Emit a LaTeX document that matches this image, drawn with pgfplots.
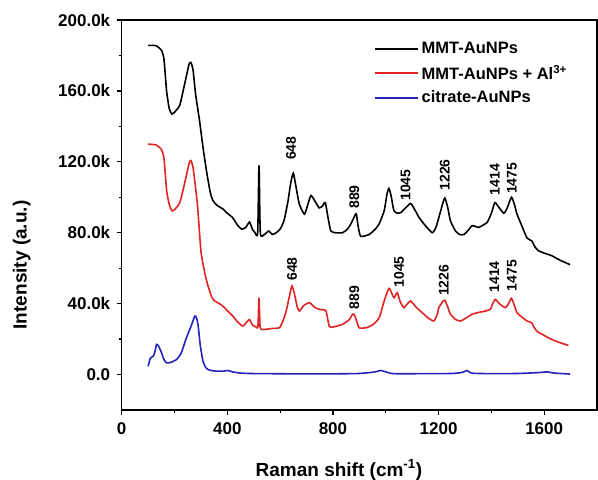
\documentclass[border=0pt]{standalone}
\usepackage{fontspec}
\setmainfont{Liberation Sans}
\usepackage{pgfplots}
\pgfplotsset{compat=1.18}
\usepackage{pgfplotstable}
\definecolor{myred}{RGB}{225,35,35}
\definecolor{myblue}{RGB}{35,35,190}

\pgfplotstableread{
x y
100 185.7
130 185.5
150 183
160 178
170 160
180 150
190 147
200 148
220 152
240 165
255 175
262 176
270 172
280 158
295 143
308 128
321 115
335 103
346 98
365 95
383 93.5
400 91
420 88.5
440 84
455 82
470 83
484 86
495 82
505 80
515 80
520 118
525 80
540 79
557 81
570 79
585 80
600 82
615 87
630 98
640 108
650 113.5
660 106
673 96
692 90.5
705 96
717 101
735 97
748 94
760 95
771 97
782 88
792 81
810 80
836 80
855 82
868 85
884 90
889 90.5
895 84
905 78
937 79
960 82
975 85
994 92.4
1005 102
1012 105
1020 101
1031 92.4
1045 91
1057 91.4
1075 94
1094 96.5
1110 93
1126 88.6
1150 84
1176 80
1190 83
1201 88.6
1215 96
1224 99.6
1235 94
1245 86.7
1264 81
1280 79
1296 79
1310 81
1327 84
1340 83.5
1352 83
1365 84
1384 85.8
1400 91
1413 97
1425 95
1447 91
1460 94
1476 100
1487 96
1497 90.5
1515 84
1535 77
1553 75.4
1565 72
1579 69.8
1600 68.5
1629 67
1660 64.5
1698 62
}\blackdata

\pgfplotstableread{
x y
100 130
130 129.5
150 127
160 122
170 104
180 96
190 92.4
200 93
220 97
240 109
255 119
262 120.7
270 117
280 105
288 94
300 69.8
315 57
325 51
340 44
352 41.5
370 40
383 38.6
400 36
421 33
440 29.5
459 27.3
470 29
484 31
495 28
509 26.8
516 27
520 43.3
524 27
530 25.5
545 25.5
570 26
597 26.4
610 30
623 35.8
635 44
645 50
655 45
665 38
673 35.8
690 39
711 40.5
730 38
748 36.8
762 36.5
774 35.8
786 27.3
800 26.8
836 28.3
862 31
874 34
880 34
888 31
899 26.4
925 26.4
950 28
975 32
994 41.5
1012 48.6
1022 46
1031 43.3
1038 45
1044 46.2
1055 41
1069 37.7
1080 39.5
1094 41.5
1115 38
1138 34.9
1160 32
1182 30.2
1195 34
1201 37.7
1215 41
1224 41.9
1235 38
1245 34
1265 31
1283 30.2
1305 32
1327 34
1350 35
1377 35.8
1396 36.8
1405 40
1415 42.4
1430 40
1453 37.7
1465 40
1476 43
1487 39
1497 34.9
1515 32.5
1535 30.2
1553 29.2
1560 27
1572 24.5
1595 22.5
1616 20.7
1650 18.5
1692 16.4
}\reddata

\pgfplotstableread{
x y
100 4.7
108 9
113 9.8
120 10.4
126 13
132 17
140 16
151 12.2
160 8.5
170 6.6
185 6.8
208 8.5
225 12
245 20.7
262 27
277 33
283 32
289 28.3
298 16
308 7.5
318 4
327 2.8
350 2
384 1.9
402 2.3
420 1.5
446 0.9
480 0.6
550 0.5
650 0.4
800 0.4
900 0.6
960 1.5
981 2.3
1000 1.5
1031 0.5
1150 0.5
1250 0.6
1290 1.2
1308 2.3
1325 0.8
1400 0.5
1500 0.6
1580 1.1
1610 1.5
1640 0.8
1698 0.3
}\bluedata

\begin{document}
\begin{tikzpicture}
\useasboundingbox (-121.7bp,-70bp) rectangle (476.3bp,410bp);
\begin{axis}[
  at={(0,0)}, anchor=south west,
  scale only axis, width=475.3bp, height=390bp,
  xmin=0, xmax=1800, ymin=-20, ymax=200,
  xtick={0,400,800,1200,1600},
  xticklabels={0,400,800,1200,1600},
  minor x tick num=1,
  ytick={0,40,80,120,160,200},
  yticklabels={0.0,40.0k,80.0k,120.0k,160.0k,200.0k},
  minor y tick num=1,
  xtick pos=bottom, ytick pos=left,
  tick align=outside,
  major tick length=5bp, minor tick length=3bp,
  tick style={line width=1.2bp, black},
  axis line style={line width=1.4bp},
  tick label style={font=\fontsize{17bp}{20bp}\selectfont\bfseries},
  xticklabel style={yshift=-4bp},
  yticklabel style={xshift=-3bp},
  xlabel={Raman shift (cm\textsuperscript{-1})},
  ylabel={Intensity (a.u.)},
  label style={font=\fontsize{19bp}{22bp}\selectfont\bfseries},
  xlabel style={at={(axis description cs:0.457,-0.1538)}, anchor=center},
  ylabel style={at={(axis description cs:-0.2104,0.372)}, anchor=center},
  legend style={draw=none, fill=none, at={(0.525,0.955)}, anchor=north west,
    font=\fontsize{16.5bp}{19bp}\selectfont\bfseries, row sep=5bp,
    nodes={inner sep=2.5bp}},
  legend cell align=left,
  legend image code/.code={\draw[#1, line width=1.8bp] (0bp,0bp) -- (43bp,0bp);},
  every axis plot/.append style={line width=1.6bp, smooth, tension=0.35},
  clip=false,
]
\addplot[black] table {\blackdata};
\addlegendentry{MMT-AuNPs}
\addplot[myred] table {\reddata};
\addlegendentry{MMT-AuNPs + Al\textsuperscript{3+}}
\addplot[myblue] table {\bluedata};
\addlegendentry{citrate-AuNPs}

\begin{scope}[every node/.style={rotate=90, anchor=west, inner sep=0pt, font=\fontsize{14bp}{16bp}\selectfont\bfseries}]
\node at (axis cs:641,121) {648};
\node at (axis cs:881,93.5) {889};
\node at (axis cs:1075,98) {1045};
\node at (axis cs:1224,103.7) {1226};
\node at (axis cs:1413,101) {1414};
\node at (axis cs:1478,101.8) {1475};
\node at (axis cs:645,52.8) {648};
\node at (axis cs:881,36.8) {889};
\node at (axis cs:1050,49) {1045};
\node at (axis cs:1220,44.3) {1226};
\node at (axis cs:1411,46.2) {1414};
\node at (axis cs:1478,47) {1475};
\end{scope}
\end{axis}
\end{tikzpicture}
\end{document}
